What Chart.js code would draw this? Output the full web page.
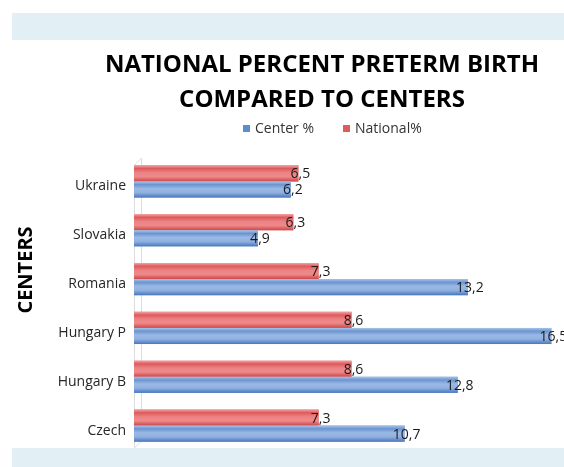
<!DOCTYPE html>
<html lang="en">
<head>
    <meta charset="UTF-8">
    <title>National Percent Preterm Birth</title>
    <style>
        html, body { margin: 0; padding: 0; background: #ffffff; }
        .chart-container { width: 564px; height: 467px; }
    </style>
    <script src="https://cdn.jsdelivr.net/npm/chart.js"></script>
</head>
<body>
    <div class="chart-container">
        <canvas id="barChart" width="564" height="467"></canvas>
    </div>

    <script>
        // data
        const centers = ['Ukraine', 'Slovakia', 'Romania', 'Hungary P', 'Hungary B', 'Czech'];
        const nationalPct = [6.5, 6.3, 7.3, 8.6, 8.6, 7.3];
        const centerPct = [6.2, 4.9, 13.2, 16.5, 12.8, 10.7];
        const titleLines = ['NATIONAL PERCENT PRETERM BIRTH', 'COMPARED TO CENTERS'];
        const axisTitle = 'CENTERS';

        const FONT = "'Open Sans', 'Liberation Sans', sans-serif";

        // gradients for the 3D look, top to bottom
        const shades = {
            red: ['#f3a3a3', '#dd5a5c', '#ec8283', '#ef8a8a', '#cd4649'],
            blue: ['#a9c3e8', '#6b94d0', '#9ab9e5', '#90b0e0', '#4876bd']
        };

        // light blue bands, the wall and the header
        const decor = {
            id: 'decor',
            beforeDraw(chart) {
                const ctx = chart.ctx;
                ctx.save();
                ctx.fillStyle = '#e2f0f5';
                ctx.fillRect(12, 13, 552, 27);
                ctx.fillRect(12, 448, 552, 19);

                const a = chart.chartArea;
                ctx.strokeStyle = '#dcdcdc';
                ctx.lineWidth = 1;
                ctx.beginPath();
                ctx.moveTo(a.left + 0.5, a.top + 8);
                ctx.lineTo(a.left + 0.5, a.bottom - 2);
                ctx.lineTo(a.left + 7.5, a.bottom - 9);
                ctx.moveTo(a.left + 0.5, a.top + 8);
                ctx.lineTo(a.left + 7.5, a.top + 1);
                ctx.lineTo(a.left + 7.5, a.bottom - 9);
                ctx.stroke();

                // title
                ctx.fillStyle = '#000000';
                ctx.textAlign = 'center';
                ctx.textBaseline = 'middle';
                ctx.font = 'bold 24px ' + FONT;
                ctx.fillText(titleLines[0], 322, 65);
                ctx.fillText(titleLines[1], 322, 100);

                // y axis title
                ctx.save();
                ctx.translate(26, 270);
                ctx.rotate(-Math.PI / 2);
                ctx.font = 'bold 20px ' + FONT;
                ctx.fillText(axisTitle, 0, 0);
                ctx.restore();

                // legend, Center % first
                ctx.font = '14px ' + FONT;
                ctx.textAlign = 'left';
                const items = [
                    { ds: chart.data.datasets[1], x: 243 },
                    { ds: chart.data.datasets[0], x: 343 }
                ];
                items.forEach(it => {
                    ctx.fillStyle = it.ds.borderColor;
                    ctx.fillRect(it.x, 125, 7, 7);
                    ctx.fillStyle = '#333333';
                    ctx.fillText(it.ds.label, it.x + 12, 129);
                });
                ctx.restore();
            },
            afterDatasetsDraw(chart) {
                const ctx = chart.ctx;
                ctx.save();
                chart.data.datasets.forEach((ds, di) => {
                    const meta = chart.getDatasetMeta(di);
                    const cols = shades[ds.shade];
                    meta.data.forEach((bar, i) => {
                        const p = bar.getProps(['x', 'y', 'base', 'height'], true);
                        const top = p.y - p.height / 2;
                        const g = ctx.createLinearGradient(0, top, 0, top + p.height);
                        g.addColorStop(0, cols[0]);
                        g.addColorStop(0.2, cols[1]);
                        g.addColorStop(0.45, cols[2]);
                        g.addColorStop(0.7, cols[3]);
                        g.addColorStop(1, cols[4]);
                        ctx.fillStyle = g;
                        ctx.fillRect(p.base, top, p.x - p.base, p.height);

                        // value label with decimal comma
                        ctx.fillStyle = '#1a1a1a';
                        ctx.font = '14px ' + FONT;
                        ctx.textAlign = 'center';
                        ctx.textBaseline = 'middle';
                        const txt = ds.data[i].toFixed(1).replace('.', ',');
                        ctx.fillText(txt, p.x + 2, p.y + 1);
                    });
                });
                ctx.restore();
            }
        };

        const ctx = document.getElementById('barChart').getContext('2d');
        const barChart = new Chart(ctx, {
            type: 'bar',
            data: {
                labels: centers,
                datasets: [{
                    label: 'National%',
                    data: nationalPct,
                    shade: 'red',
                    backgroundColor: '#e46c6c',
                    borderColor: '#e05a5e',
                    borderWidth: 0
                }, {
                    label: 'Center %',
                    data: centerPct,
                    shade: 'blue',
                    backgroundColor: '#7ea3d8',
                    borderColor: '#5b8bd0',
                    borderWidth: 0
                }]
            },
            options: {
                indexAxis: 'y',
                responsive: false,
                maintainAspectRatio: false,
                animation: false,
                layout: {
                    padding: { top: 157, bottom: 17, left: 0, right: 0 }
                },
                datasets: {
                    bar: { categoryPercentage: 0.66, barPercentage: 1.0 }
                },
                plugins: {
                    legend: { display: false },
                    title: { display: false },
                    tooltip: { enabled: false }
                },
                scales: {
                    x: {
                        display: false,
                        min: 0,
                        max: 17
                    },
                    y: {
                        grid: { display: false },
                        border: { display: false },
                        afterFit(scale) { scale.width = 134; },
                        ticks: {
                            color: '#262626',
                            padding: 0,
                            labelOffset: 5,
                            font: { family: FONT, size: 14 }
                        }
                    }
                }
            },
            plugins: [decor]
        });
    </script>
</body>
</html>
